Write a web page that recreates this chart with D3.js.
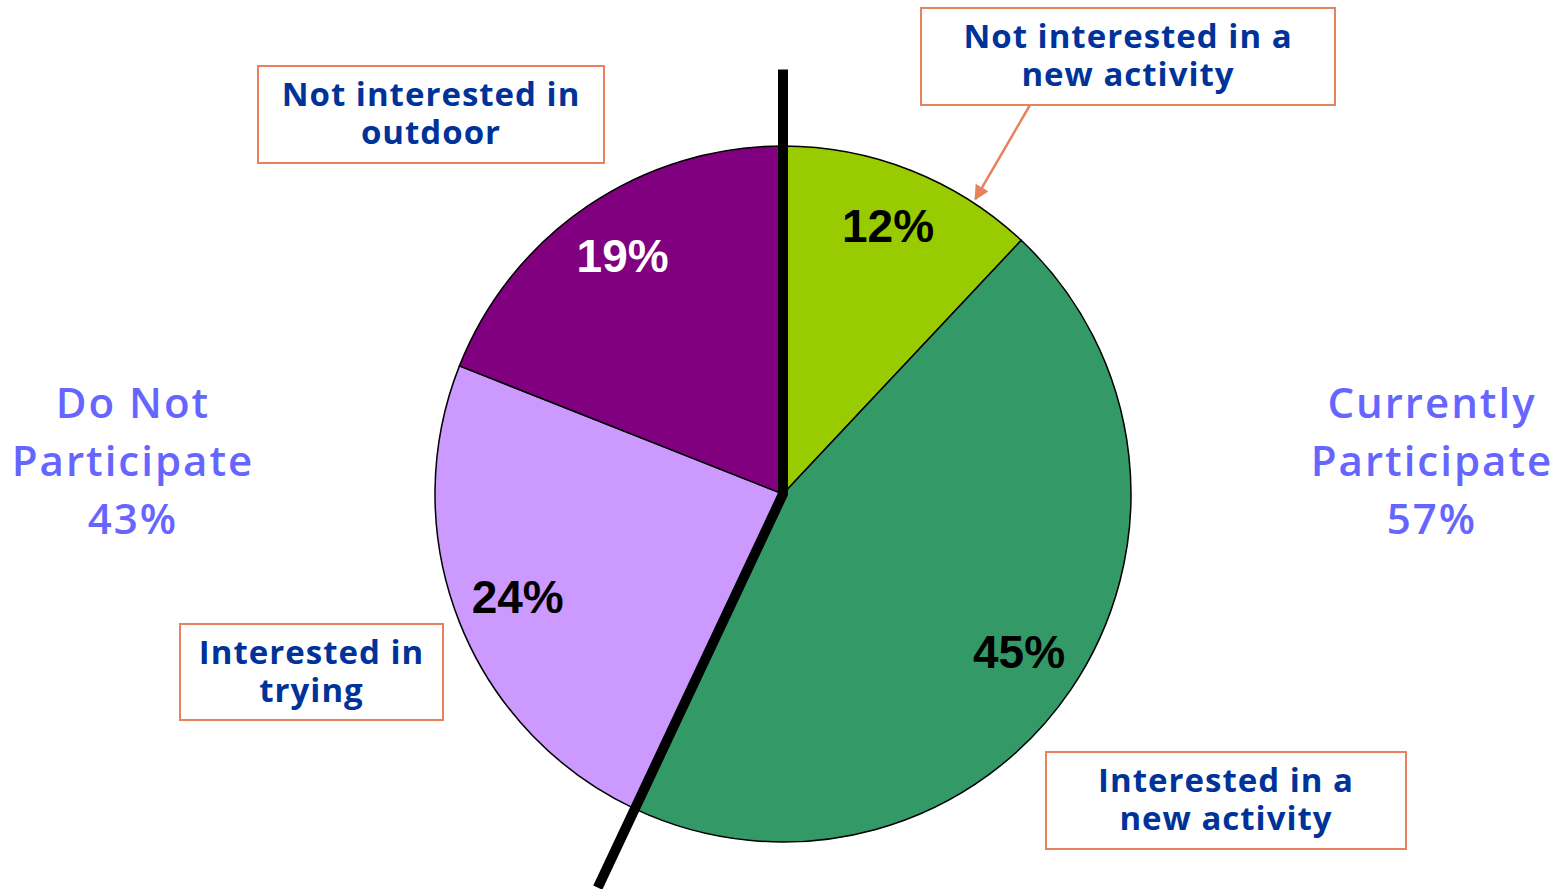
<html>
<head>
    <script src="https://d3js.org/d3.v7.min.js"></script>
    <style>
        body { margin: 0; background: #fff; }
        .box { fill: #fff; stroke: #E8825E; stroke-width: 2px; }
        .boxText { font-family: "Open Sans", sans-serif; font-weight: 700; font-size: 33px; letter-spacing: 1px; fill: #003399; }
        .sideText { font-family: "Open Sans", sans-serif; font-weight: 600; font-size: 42px; letter-spacing: 2px; fill: #6666FF; }
        .pct { font-family: "Liberation Sans", Arial, sans-serif; font-weight: 700; font-size: 46px; }
    </style>
</head>
<body>
<svg id="chart" width="1562" height="889"></svg>
<script>
    // slices, clockwise from 12 o'clock
    const categories = ["Not interested in a new activity", "Interested in a new activity", "Interested in trying", "Not interested in outdoor"];
    const values = [12, 45, 24, 19];
    const colors = ["#99CC00", "#339966", "#CC99FF", "#800080"];
    const labelColors = ["#000", "#000", "#000", "#fff"];
    const groups = [["Currently", "Participate", "57%"], ["Do Not", "Participate", "43%"]];
    const boxLines = [["Not interested in a", "new activity"], ["Interested in a", "new activity"], ["Interested in", "trying"], ["Not interested in", "outdoor"]];

    const svg = d3.select("#chart");
    const cx = 783, cy = 494, radius = 348;
    const g = svg.append("g").attr("transform", `translate(${cx},${cy})`);

    const pie = d3.pie().sort(null).value(d => d);
    const arcs = pie(values);
    const arc = d3.arc().innerRadius(0).outerRadius(radius);
    const labelArc = d3.arc().innerRadius(radius * 0.82).outerRadius(radius * 0.82);

    g.selectAll("path.slice").data(arcs)
        .join("path")
        .attr("class", "slice")
        .attr("d", arc)
        .attr("fill", (d, i) => colors[i])
        .attr("stroke", "#000")
        .attr("stroke-width", 1.5);

    g.selectAll("text.pct").data(arcs)
        .join("text")
        .attr("class", "pct")
        .attr("x", d => labelArc.centroid(d)[0])
        .attr("y", d => labelArc.centroid(d)[1])
        .attr("text-anchor", "middle")
        .attr("dy", "0.3em")
        .attr("fill", (d, i) => labelColors[i])
        .text(d => d.value + "%");

    // thick divider between participate / not participate
    const total = d3.sum(values);
    const splitAngle = 2 * Math.PI * (values[0] + values[1]) / total;
    const pt = (a, r) => [r * Math.sin(a), -r * Math.cos(a)];
    const lineTop = pt(0, radius * 1.22), lineBottom = pt(splitAngle, radius * 1.25);
    g.append("path")
        .attr("d", d3.line()([lineTop, [0, 0], lineBottom]))
        .attr("fill", "none")
        .attr("stroke", "#000")
        .attr("stroke-width", 10)
        .attr("stroke-linejoin", "miter");

    // side labels, one text each with tspans
    const sideX = [1432, 133];
    groups.forEach((lines, k) => {
        const t = svg.append("text")
            .attr("class", "sideText")
            .attr("text-anchor", "middle");
        lines.forEach((s, i) => {
            t.append("tspan")
                .attr("x", sideX[k])
                .attr("y", 418 + 58 * i)
                .text(s);
        });
    });

    // callout boxes
    const boxes = [
        { x: 921, y: 8, w: 414, h: 97 },
        { x: 1046, y: 752, w: 360, h: 97 },
        { x: 180, y: 624, w: 263, h: 96 },
        { x: 258, y: 66, w: 346, h: 97 }
    ];
    boxes.forEach((b, i) => {
        svg.append("rect").attr("class", "box")
            .attr("x", b.x).attr("y", b.y).attr("width", b.w).attr("height", b.h);
        const t = svg.append("text")
            .attr("class", "boxText")
            .attr("text-anchor", "middle");
        boxLines[i].forEach((s, j) => {
            t.append("tspan")
                .attr("x", b.x + b.w / 2)
                .attr("y", b.y + 40 + 38 * j)
                .text(s);
        });
    });

    // arrow from first box to the green slice
    svg.append("defs").append("marker")
        .attr("id", "head")
        .attr("viewBox", "0 0 10 10")
        .attr("refX", 9).attr("refY", 5)
        .attr("markerWidth", 6).attr("markerHeight", 6)
        .attr("orient", "auto")
        .append("path").attr("d", "M0,0 L10,5 L0,10 z").attr("fill", "#E8825E");
    const tip = pt(2 * Math.PI * 0.092, radius + 4);
    svg.append("line")
        .attr("x1", 1030).attr("y1", 105)
        .attr("x2", cx + tip[0]).attr("y2", cy + tip[1])
        .attr("stroke", "#E8825E")
        .attr("stroke-width", 2.5)
        .attr("marker-end", "url(#head)");
</script>
</body>
</html>
